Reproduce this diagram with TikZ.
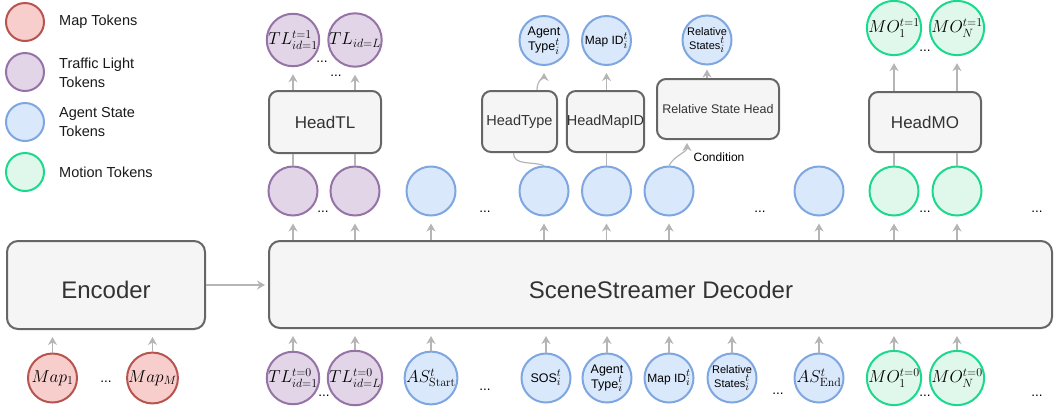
\documentclass[tikz,border=0pt]{standalone}
\usepackage[no-math]{fontspec}
\setmainfont{Liberation Sans}
\usetikzlibrary{arrows.meta,calc}
\definecolor{mapfill}{HTML}{F8CECC}
\definecolor{mapdraw}{HTML}{B85450}
\definecolor{tlfill}{HTML}{E1D5E7}
\definecolor{tldraw}{HTML}{9673A6}
\definecolor{asfill}{HTML}{DAE8FC}
\definecolor{asdraw}{HTML}{7EA6E0}
\definecolor{mofill}{HTML}{DFF8EB}
\definecolor{modraw}{HTML}{1BD98C}
\definecolor{boxfill}{HTML}{F5F5F5}
\definecolor{boxdraw}{HTML}{666666}
\definecolor{boxtext}{HTML}{333333}
\definecolor{conn}{HTML}{B5B5B5}
\newcommand{\myti}{{\fontsize{15}{15}\selectfont$^t_i$}}
\tikzset{
  tok/.style={circle, line width=2pt, minimum size=49pt, inner sep=0pt, align=center,
    font=\fontsize{17}{18}\selectfont},
  smalltok/.style={font=\fontsize{12.5}{15}\selectfont},
  tinytok/.style={font=\fontsize{11}{14}\selectfont},
  maptok/.style={tok, draw=mapdraw, fill=mapfill},
  tltok/.style={tok, draw=tldraw, fill=tlfill},
  astok/.style={tok, draw=asdraw, fill=asfill},
  motok/.style={tok, draw=modraw, fill=mofill},
  legc/.style={circle, line width=2pt, minimum size=38pt, inner sep=0pt},
  legtext/.style={anchor=west, align=left, inner sep=0pt, text=black!90,
    font=\fontsize{14.5}{19}\selectfont},
  arr/.style={draw=conn, line width=1.2pt, -{Stealth[length=8pt,width=9pt,inset=2.5pt]}, shorten >=7pt},
  ln/.style={draw=conn, line width=1.2pt},
  headbox/.style={draw=boxdraw, fill=boxfill, line width=2pt, rounded corners=9pt,
    inner sep=0pt, text=boxtext, align=center},
  bigbox/.style={draw=boxdraw, fill=boxfill, line width=2pt, rounded corners=11pt, inner sep=0pt},
  bigtext/.style={text=boxtext, inner sep=0pt, font=\fontsize{24}{24}\selectfont},
  dots/.style={inner sep=0pt, font=\fontsize{13.5}{13.5}\selectfont},
  condtext/.style={inner sep=0pt, font=\fontsize{12}{12}\selectfont},
}
\begin{document}
\begin{tikzpicture}[x=1pt,y=1pt]
\useasboundingbox (0,0) rectangle (1055,-408);

% legend
\node[legc, draw=mapdraw, fill=mapfill] (l1) at (25,-22) {};
\node[legc, draw=tldraw, fill=tlfill] (l2) at (25,-72) {};
\node[legc, draw=asdraw, fill=asfill] (l3) at (25,-122) {};
\node[legc, draw=modraw, fill=mofill] (l4) at (25,-172) {};
\node[legtext] (lt1) at (59,-22) {Map Tokens};
\node[legtext] (lt2) at (59,-72.5) {Traffic Light\\Tokens};
\node[legtext] (lt3) at (59,-122.5) {Agent State\\Tokens};
\node[legtext] (lt4) at (59,-172) {Motion Tokens};

% big boxes
\node[bigbox, minimum width=198pt, minimum height=88pt] (enc) at (106,-285) {};
\node[bigtext] (enclab) at (106,-290) {Encoder};
\node[bigbox, minimum width=783pt, minimum height=87pt] (dec) at (660.5,-284.5) {};
\node[bigtext] (declab) at (661,-290) {SceneStreamer Decoder};

% heads
\node[headbox, minimum width=112pt, minimum height=62pt, font=\fontsize{17}{17}\selectfont] (htl) at (325,-122) {HeadTL};
\node[headbox, minimum width=75pt, minimum height=61pt, font=\fontsize{14.5}{14.5}\selectfont] (hty) at (519.5,-121.5) {HeadType};
\node[headbox, minimum width=75pt, minimum height=61pt, font=\fontsize{14.5}{14.5}\selectfont] (hmap) at (605.5,-121.5) {HeadMapID};
\node[headbox, minimum width=122pt, minimum height=60pt, font=\fontsize{12.5}{12.5}\selectfont] (rsh) at (718,-109) {Relative State Head};
\node[headbox, minimum width=112pt, minimum height=60pt, font=\fontsize{17}{17}\selectfont] (hmo) at (925,-122) {HeadMO};

% bottom row
\node[maptok] (map1) at (52.5,-378) {$Map_1$};
\node[maptok] (mapm) at (152.5,-378) {$Map_M$};
\node[tltok] (btl1) at (293,-378) {$TL^{t=0}_{id=1}$};
\node[tltok] (btl2) at (355,-378) {$TL^{t=0}_{id=L}$};
\node[astok] (bas) at (431,-378) {$AS^t_{\mathrm{Start}}$};
\node[astok, smalltok] (bsos) at (546,-378) {SOS\myti};
\node[astok, smalltok] (btype) at (607,-378) {Agent\\Type\myti};
\node[astok, font=\fontsize{12}{14}\selectfont] (bmap) at (669,-378) {Map ID\myti};
\node[astok, tinytok] (brel) at (732,-378) {Relative\\States\myti};
\node[astok] (bend) at (819,-378) {$AS^t_{\mathrm{End}}$};
\node[motok] (bmo1) at (894,-378) {$MO^{t=0}_1$};
\node[motok] (bmo2) at (957,-378) {$MO^{t=0}_N$};

% middle row
\node[tltok] (mtl1) at (293,-191) {};
\node[tltok] (mtl2) at (355,-191) {};
\node[astok] (mas) at (431,-191) {};
\node[astok] (mb1) at (544,-191) {};
\node[astok] (mb2) at (606.5,-191) {};
\node[astok] (mb3) at (669,-191) {};
\node[astok] (mb4) at (819,-191) {};
\node[motok] (mg1) at (894,-191) {};
\node[motok] (mg2) at (957,-191) {};

% top row
\node[tltok] (ttl1) at (293,-40) {$TL^{t=1}_{id=1}$};
\node[tltok] (ttl2) at (355,-40) {$TL_{id=L}$};
\node[astok, smalltok] (tat) at (544,-40.5) {Agent\\Type\myti};
\node[astok, font=\fontsize{12}{14}\selectfont] (tmap) at (606.5,-40.5) {Map ID\myti};
\node[astok, tinytok] (trel) at (707,-40) {Relative\\States\myti};
\node[motok] (tmo1) at (894,-28) {$MO^{t=1}_1$};
\node[motok] (tmo2) at (957,-28) {$MO^{t=1}_N$};

% dots
\node[dots] (d1) at (322,-62) {...};
\node[dots] (d2) at (336,-76) {...};
\node[dots] (d3) at (925,-51) {...};
\node[dots] (d4) at (323,-212) {...};
\node[dots] (d5) at (485,-212) {...};
\node[dots] (d6) at (760,-212) {...};
\node[dots] (d7) at (925,-212) {...};
\node[dots] (d8) at (1037,-212) {...};
\node[dots] (d9) at (106,-382) {...};
\node[dots] (d10) at (324,-396) {...};
\node[dots] (d11) at (485,-390) {...};
\node[dots] (d12) at (778,-394) {...};
\node[dots] (d13) at (925,-396) {...};
\node[dots] (d14) at (1037,-396) {...};

% encoder inputs
\foreach \n in {map1,mapm} \draw[arr] (\n) -- (\n |- enc.south);
% decoder inputs
\foreach \n in {btl1,btl2,bas,bsos,btype,bmap,brel,bend,bmo1,bmo2} \draw[arr] (\n) -- (\n |- dec.south);
% decoder outputs
\foreach \n in {mtl1,mtl2,mas,mb1,mb2,mb3,mb4,mg1,mg2} \draw[arr] (\n |- dec.north) -- (\n);
% encoder to decoder
\draw[arr, shorten >=3pt] (enc.east) -- (enc.east -| dec.west);

% heads TL / MO
\foreach \n in {mtl1,mtl2} \draw[ln] (\n) -- (\n |- htl.south);
\foreach \n in {ttl1,ttl2} \draw[arr] (\n |- htl.north) -- (\n);
\foreach \n in {mg1,mg2} \draw[ln] (\n) -- (\n |- hmo.south);
\foreach \n in {tmo1,tmo2} \draw[arr] (\n |- hmo.north) -- (\n);

% HeadType
\coordinate (htb) at ($(hty.south)+(-6,0)$);
\coordinate (htt) at ($(hty.north)+(17.5,0)$);
\draw[ln] (mb1.north) to[out=160,in=-90] (htb);
\draw[arr] (htt) to[out=90,in=-90] (tat.south);

% HeadMapID
\draw[ln] (mb2) -- (mb2 |- hmap.south);
\draw[arr] (tmap |- hmap.north) -- (tmap);

% Relative State Head
\coordinate (rsb) at ($(rsh.south)+(-31,0)$);
\draw[arr, shorten >=3pt] (mb3.north) to[out=60,in=-90] (rsb);
\node[condtext] (cond) at (719,-157) {Condition};
\draw[arr, shorten >=4pt] (trel |- rsh.north) -- (trel);
\end{tikzpicture}
\end{document}
